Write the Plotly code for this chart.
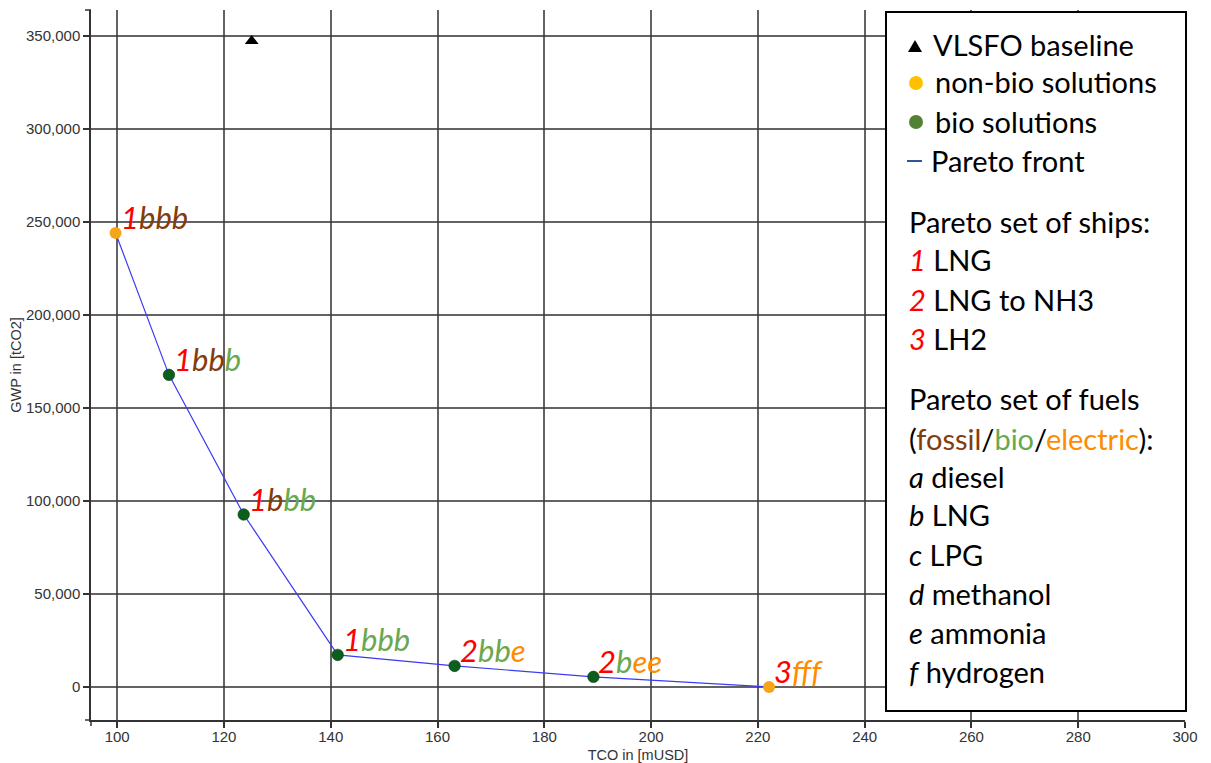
import plotly.graph_objects as go

# ---------------- data ----------------
tco = [99.7, 109.7, 123.7, 141.3, 163.2, 189.2, 222.1]
gwp = [244100, 167800, 92700, 17200, 11300, 5400, 0]
is_bio = [False, True, True, True, True, True, False]
ship_ids = ["1", "1", "1", "1", "2", "2", "3"]
fuel_codes = ["bbb", "bbb", "bbb", "bbb", "bbe", "bee", "fff"]
fuel_kinds = ["FFF", "FFB", "FBB", "BBB", "BBE", "BEE", "EEE"]  # F fossil, B bio, E electric

baseline_tco = [125.2]
baseline_gwp = [347300]

x_ticks = [100, 120, 140, 160, 180, 200, 220, 240, 260, 280, 300]
y_ticks = [0, 50000, 100000, 150000, 200000, 250000, 300000, 350000]

ships_legend = [("1", "LNG"), ("2", "LNG to NH3"), ("3", "LH2")]
fuels_legend = [("a", "diesel"), ("b", "LNG"), ("c", "LPG"), ("d", "methanol"),
                ("e", "ammonia"), ("f", "hydrogen")]

# ---------------- styles ----------------
RED = "#FF0000"
KIND_COLOR = {"F": "#843C0C", "B": "#6AA84F", "E": "#FF8C00"}
NONBIO_MARK = "#F5A516"
BIO_MARK = "#0B5E1E"
FONT = "Lato"

OFF = 8  # page body margin
W, H = 1211 - OFF, 763 - OFF
# plot area in page pixels: left 91, right 1185, top 10, bottom 720
L = 91 - OFF
T = 10 - OFF
R = W - (1185 - OFF)
B = H - (720 - OFF)
PW, PH = W - L - R, H - T - B


def px_x(px):
    return (px - OFF - L) / PW


def px_y(py):
    return (T + PH - (py - OFF)) / PH


fig = go.Figure()

# Pareto front line
fig.add_trace(go.Scatter(x=tco, y=gwp, mode="lines", name="Pareto front",
                         line=dict(color="#3B3BF5", width=1.2), hoverinfo="skip",
                         showlegend=False))
# non-bio points
fig.add_trace(go.Scatter(x=[t for t, b in zip(tco, is_bio) if not b],
                         y=[g for g, b in zip(gwp, is_bio) if not b],
                         mode="markers", name="non-bio solutions",
                         marker=dict(color=NONBIO_MARK, size=12), showlegend=False))
# bio points
fig.add_trace(go.Scatter(x=[t for t, b in zip(tco, is_bio) if b],
                         y=[g for g, b in zip(gwp, is_bio) if b],
                         mode="markers", name="bio solutions",
                         marker=dict(color=BIO_MARK, size=11.5,
                                     line=dict(color="#063d12", width=0.6)),
                         showlegend=False))
# baseline
fig.add_trace(go.Scatter(x=baseline_tco, y=baseline_gwp, mode="markers",
                         name="VLSFO baseline",
                         marker=dict(color="black", size=12, symbol="triangle-up"),
                         showlegend=False))

# point labels
for t, g, s, f, k in zip(tco, gwp, ship_ids, fuel_codes, fuel_kinds):
    txt = f'<span style="color:{RED}">{s}</span>'
    for ch, kk in zip(f, k):
        txt += f'<span style="color:{KIND_COLOR[kk]}">{ch}</span>'
    fig.add_annotation(x=t, y=g, xref="x", yref="y", text=f"<i>{txt}</i>",
                       showarrow=False, xanchor="left", yanchor="middle",
                       xshift=3, yshift=16,
                       font=dict(family=FONT, size=31))

shapes = []
# legend box
shapes.append(dict(type="rect", xref="paper", yref="paper",
                   x0=px_x(886), x1=px_x(1186), y0=px_y(711), y1=px_y(12),
                   line=dict(color="black", width=2), fillcolor="white", layer="above"))
# outer ticks of axes
shapes.append(dict(type="line", xref="paper", yref="paper",
                   x0=px_x(85), x1=0, y0=1, y1=1,
                   line=dict(color="#333", width=1.5)))
shapes.append(dict(type="line", xref="paper", yref="paper",
                   x0=px_x(85), x1=0, y0=0, y1=0,
                   line=dict(color="#333", width=1.5)))
shapes.append(dict(type="line", xref="paper", yref="paper",
                   x0=0, x1=0, y0=px_y(726), y1=0,
                   line=dict(color="#333", width=1.5)))

# legend glyphs
shapes.append(dict(type="path", xref="paper", yref="paper", xsizemode="pixel",
                   ysizemode="pixel", xanchor=px_x(915), yanchor=px_y(46),
                   path="M -7,-6 L 7,-6 L 0,6 Z", fillcolor="black",
                   line=dict(width=0), layer="above"))
shapes.append(dict(type="circle", xref="paper", yref="paper", xsizemode="pixel",
                   ysizemode="pixel", xanchor=px_x(916), yanchor=px_y(83),
                   x0=-7, x1=7, y0=-7, y1=7, fillcolor="#FFC000",
                   line=dict(width=0), layer="above"))
shapes.append(dict(type="circle", xref="paper", yref="paper", xsizemode="pixel",
                   ysizemode="pixel", xanchor=px_x(916), yanchor=px_y(122),
                   x0=-7, x1=7, y0=-7, y1=7, fillcolor="#548235",
                   line=dict(width=0), layer="above"))
shapes.append(dict(type="line", xref="paper", yref="paper",
                   x0=px_x(907), x1=px_x(922), y0=px_y(161), y1=px_y(161),
                   line=dict(color="#2F5597", width=2), layer="above"))

legend_lines = [
    (931, 44, "VLSFO baseline"),
    (933, 82, "non-bio solutions"),
    (933, 121, "bio solutions"),
    (929, 160, "Pareto front"),
    (907, 221, "Pareto set of ships:"),
]
yy = 260
for num, name in ships_legend:
    legend_lines.append((907, yy, f'<i><span style="color:{RED}">{num}</span></i> {name}'))
    yy += 39
legend_lines.append((907, 399, "Pareto set of fuels"))
legend_lines.append((907, 438,
                     f'(<span style="color:{KIND_COLOR["F"]}">fossil</span>/'
                     f'<span style="color:{KIND_COLOR["B"]}">bio</span>/'
                     f'<span style="color:{KIND_COLOR["E"]}">electric</span>):'))
yy = 476
for letter, name in fuels_legend:
    legend_lines.append((907, yy, f"<i>{letter}</i> {name}"))
    yy += 39

for xp, ypx, txt in legend_lines:
    fig.add_annotation(x=px_x(xp), y=px_y(ypx), xref="paper", yref="paper",
                       text=txt, showarrow=False, xanchor="left", yanchor="middle",
                       font=dict(family=FONT, size=29, color="black"))

fig.update_layout(
    width=W, height=H,
    margin=dict(l=L, r=R, t=T, b=B, pad=0, autoexpand=False),
    plot_bgcolor="white", paper_bgcolor="white",
    shapes=shapes,
    showlegend=False,
    font=dict(family="Liberation Sans, Arial", color="#333"),
)
grid = dict(showgrid=True, gridcolor="rgba(55,55,55,0.78)", gridwidth=2,
            zeroline=False, showline=True, linecolor="#333", linewidth=1.5,
            ticks="outside", ticklen=6, tickcolor="#333", tickwidth=1.5,
            tickfont=dict(size=15, color="#333"))
fig.update_xaxes(range=[95.1, 300], tickvals=x_ticks, ticklabelstandoff=-4,
                 title=dict(text="TCO in [mUSD]", font=dict(size=14.5, color="#333"),
                            standoff=12),
                 **grid)
fig.update_yaxes(range=[-17800, 364000], tickvals=y_ticks, tickformat=",",
                 title=dict(text="GWP in [tCO2]", font=dict(size=14.5, color="#333"),
                            standoff=2),
                 **grid)

fig.write_html("out.html")
